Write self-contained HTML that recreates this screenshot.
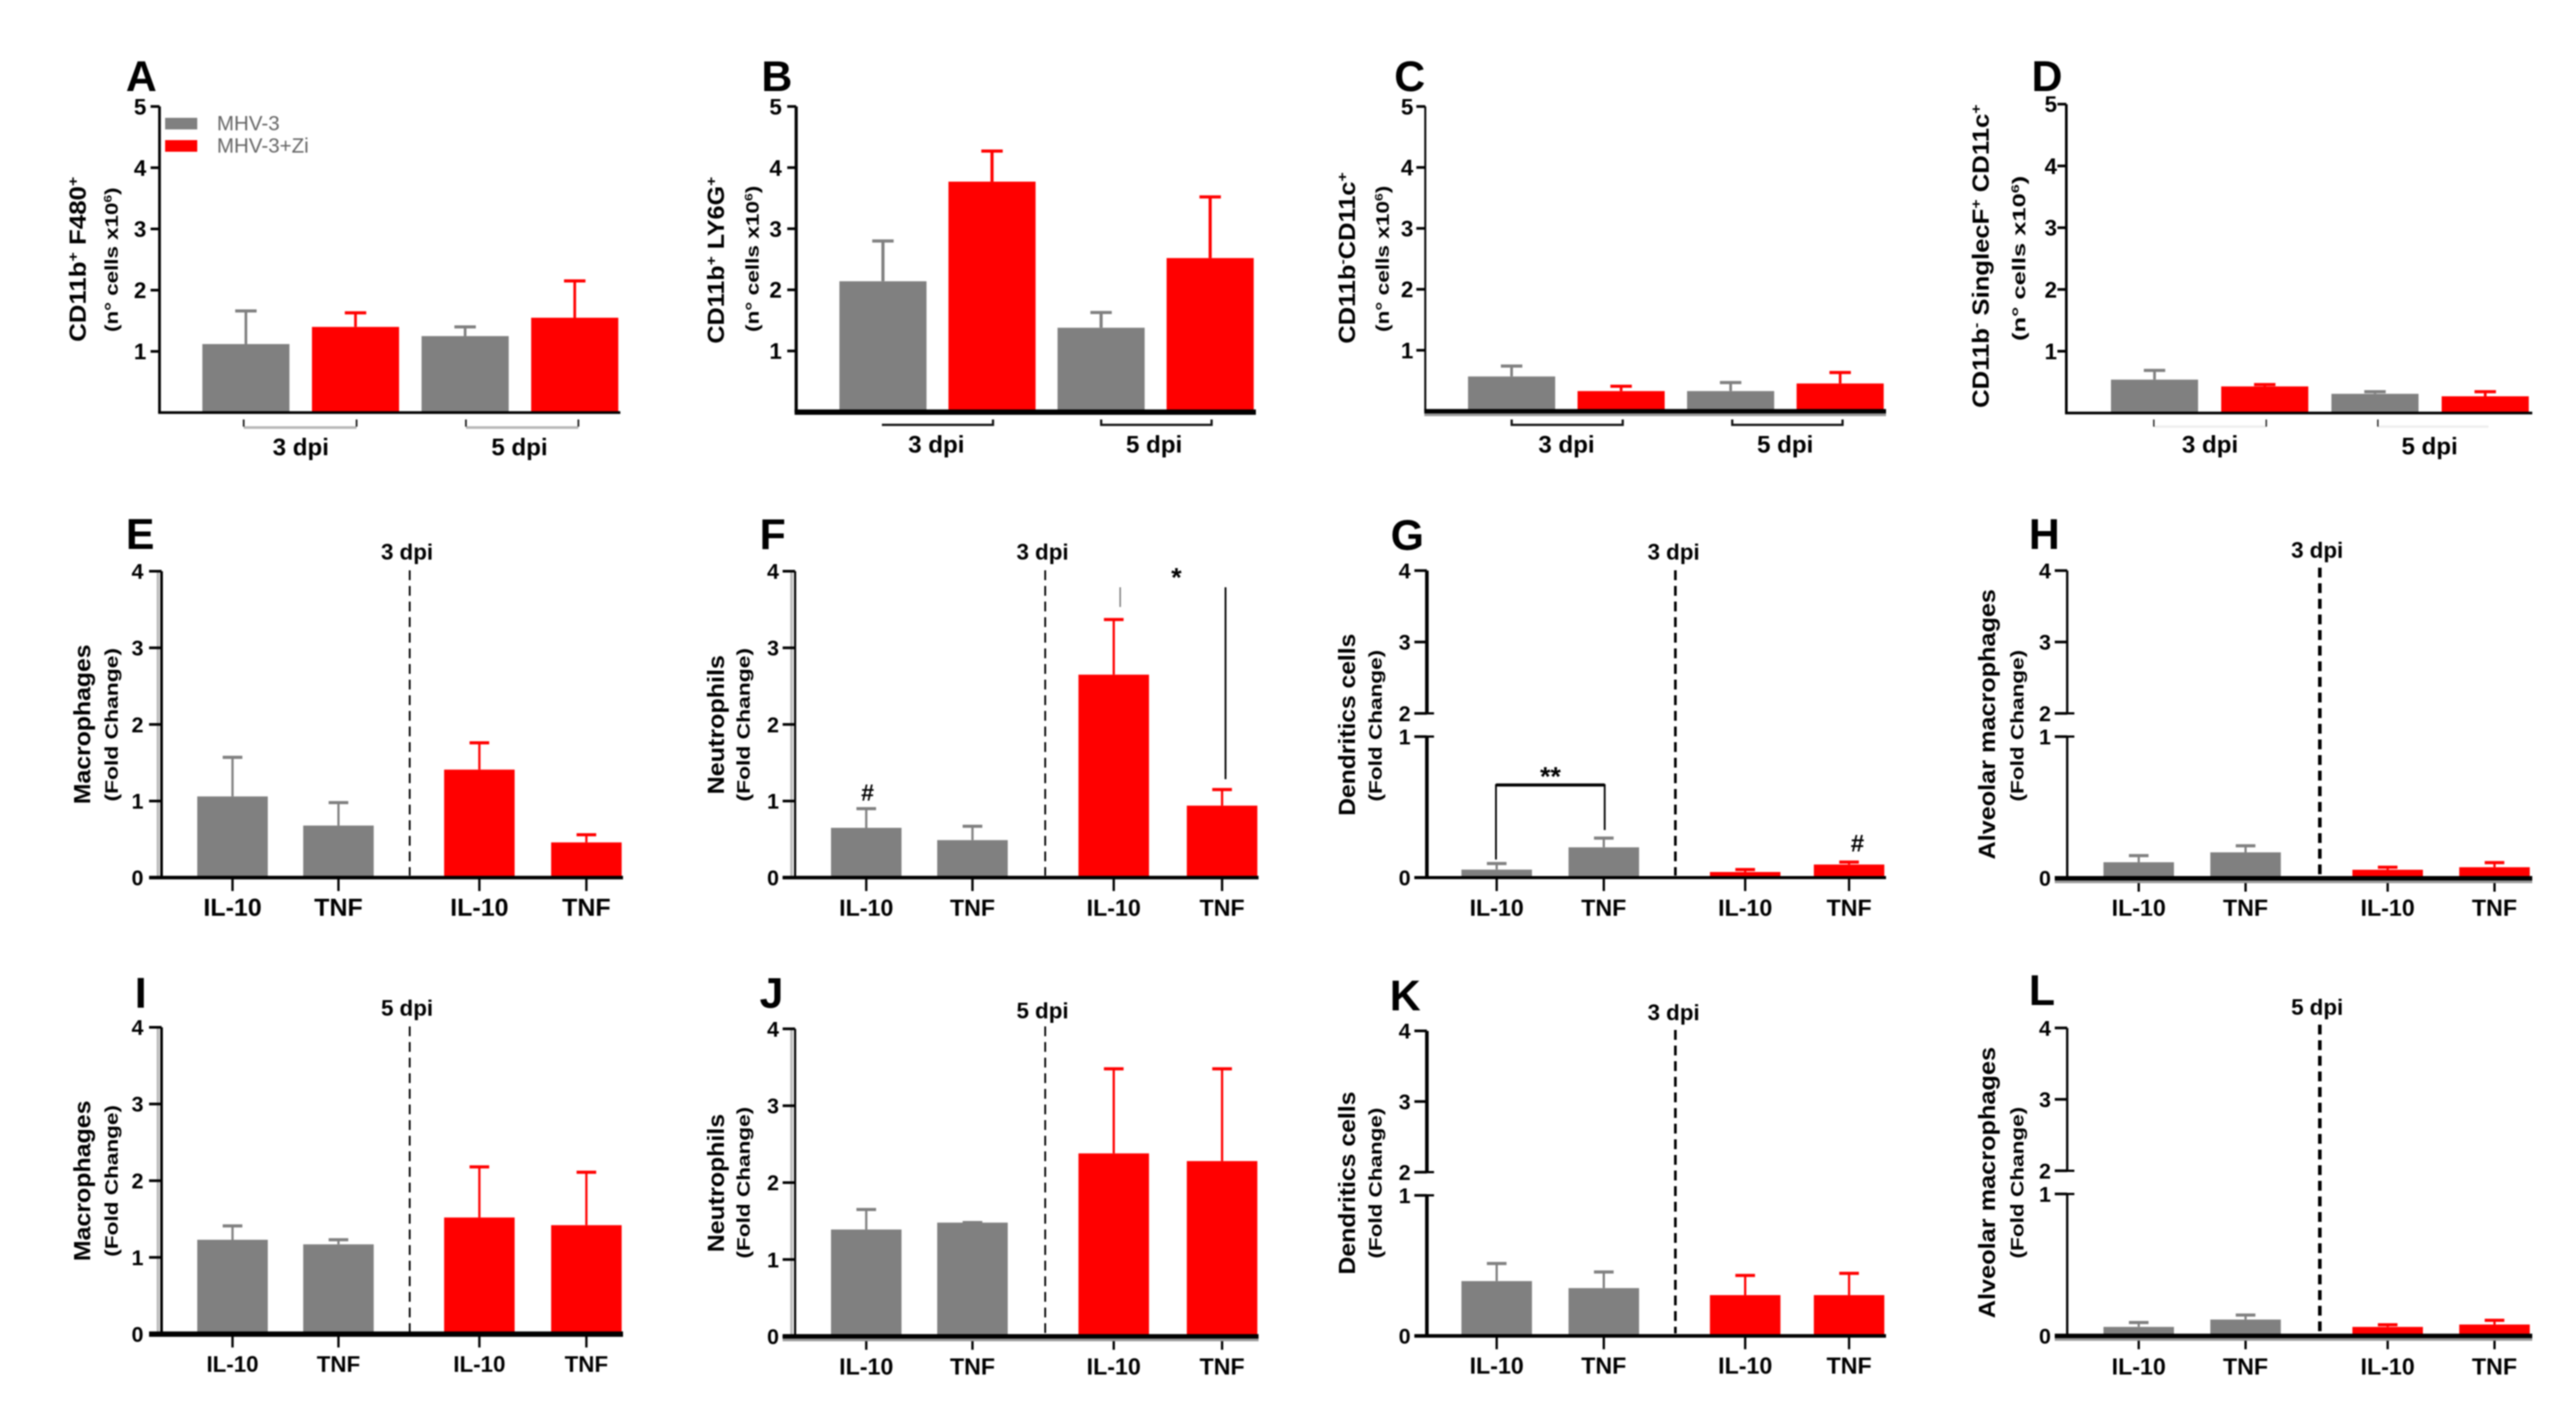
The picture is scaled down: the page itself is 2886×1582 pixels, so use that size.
<!DOCTYPE html>
<html lang="en">
<head>
<meta charset="utf-8">
<title>Immune cell counts and cytokine fold change panels</title>
<style>
html,body{margin:0;padding:0;background:#fff;width:2886px;height:1582px;overflow:hidden}
svg{display:block;filter:blur(0.8px)}
text{font-family:"Liberation Sans",Arial,sans-serif;fill:#000}
.letter{font-size:48px;font-weight:700}
.yt1{font-size:26px;font-weight:700}
.yt2{font-size:20px;font-weight:700}
.sup{font-size:.62em}
.dpi1{font-size:27px;font-weight:700;text-anchor:middle}
.dpi2{font-size:25px;font-weight:700;text-anchor:middle}
.legend{font-size:23px;fill:#666}
.stat{font-weight:700;text-anchor:middle}
</style>
</head>
<body>
<svg id="fig" xmlns="http://www.w3.org/2000/svg" width="2886" height="1582" viewBox="0 0 2886 1582">
<rect x="0" y="0" width="2886" height="1582" fill="#fff"/>

<g>
<text class="letter" x="141" y="102">A</text>
<text class="letter" x="853" y="102">B</text>
<text class="letter" x="1562" y="102">C</text>
<text class="letter" x="2276" y="102">D</text>
<text class="letter" x="141" y="615">E</text>
<text class="letter" x="851" y="615">F</text>
<text class="letter" x="1558" y="616">G</text>
<text class="letter" x="2273" y="615">H</text>
<text class="letter" x="151" y="1129">I</text>
<text class="letter" x="851" y="1129">J</text>
<text class="letter" x="1557" y="1132">K</text>
<text class="letter" x="2273" y="1126">L</text>
</g>

<g>
<text class="yt1" x="96" y="383" transform="rotate(-90 96 383)" textLength="185" lengthAdjust="spacingAndGlyphs">CD11b<tspan class="sup" dy="-9">+</tspan><tspan dy="9"> F480</tspan><tspan class="sup" dy="-9">+</tspan></text>
<text class="yt2" x="132" y="372" transform="rotate(-90 132 372)" textLength="162" lengthAdjust="spacingAndGlyphs">(n° cells x10<tspan class="sup" dy="-7">6</tspan><tspan dy="7">)</tspan></text>
<text class="yt1" x="811" y="385" transform="rotate(-90 811 385)" textLength="187" lengthAdjust="spacingAndGlyphs">CD11b<tspan class="sup" dy="-9">+</tspan><tspan dy="9"> LY6G</tspan><tspan class="sup" dy="-9">+</tspan></text>
<text class="yt2" x="850" y="372" transform="rotate(-90 850 372)" textLength="164" lengthAdjust="spacingAndGlyphs">(n° cells x10<tspan class="sup" dy="-7">6</tspan><tspan dy="7">)</tspan></text>
<text class="yt1" x="1518" y="385" transform="rotate(-90 1518 385)" textLength="192" lengthAdjust="spacingAndGlyphs">CD11b<tspan class="sup" dy="-9">-</tspan><tspan dy="9">CD11c</tspan><tspan class="sup" dy="-9">+</tspan></text>
<text class="yt2" x="1556" y="372" transform="rotate(-90 1556 372)" textLength="164" lengthAdjust="spacingAndGlyphs">(n° cells x10<tspan class="sup" dy="-7">6</tspan><tspan dy="7">)</tspan></text>
<text class="yt1" x="2228" y="457" transform="rotate(-90 2228 457)" textLength="340" lengthAdjust="spacingAndGlyphs">CD11b<tspan class="sup" dy="-9">-</tspan><tspan dy="9"> SinglecF</tspan><tspan class="sup" dy="-9">+</tspan><tspan dy="9"> CD11c</tspan><tspan class="sup" dy="-9">+</tspan></text>
<text class="yt2" x="2269" y="382" transform="rotate(-90 2269 382)" textLength="185" lengthAdjust="spacingAndGlyphs">(n° cells x10<tspan class="sup" dy="-7">6</tspan><tspan dy="7">)</tspan></text>

<text class="yt1" x="101" y="901" transform="rotate(-90 101 901)" textLength="179" lengthAdjust="spacingAndGlyphs">Macrophages</text>
<text class="yt2" x="132" y="898" transform="rotate(-90 132 898)" textLength="172" lengthAdjust="spacingAndGlyphs">(Fold Change)</text>
<text class="yt1" x="811" y="890" transform="rotate(-90 811 890)" textLength="156" lengthAdjust="spacingAndGlyphs">Neutrophils</text>
<text class="yt2" x="840" y="898" transform="rotate(-90 840 898)" textLength="172" lengthAdjust="spacingAndGlyphs">(Fold Change)</text>
<text class="yt1" x="1518" y="914" transform="rotate(-90 1518 914)" textLength="204" lengthAdjust="spacingAndGlyphs">Dendritics cells</text>
<text class="yt2" x="1548" y="898" transform="rotate(-90 1548 898)" textLength="170" lengthAdjust="spacingAndGlyphs">(Fold Change)</text>
<text class="yt1" x="2235" y="963" transform="rotate(-90 2235 963)" textLength="303" lengthAdjust="spacingAndGlyphs">Alveolar macrophages</text>
<text class="yt2" x="2267" y="898" transform="rotate(-90 2267 898)" textLength="170" lengthAdjust="spacingAndGlyphs">(Fold Change)</text>

<text class="yt1" x="101" y="1413" transform="rotate(-90 101 1413)" textLength="180" lengthAdjust="spacingAndGlyphs">Macrophages</text>
<text class="yt2" x="132" y="1408" transform="rotate(-90 132 1408)" textLength="170" lengthAdjust="spacingAndGlyphs">(Fold Change)</text>
<text class="yt1" x="811" y="1403" transform="rotate(-90 811 1403)" textLength="155" lengthAdjust="spacingAndGlyphs">Neutrophils</text>
<text class="yt2" x="840" y="1410" transform="rotate(-90 840 1410)" textLength="170" lengthAdjust="spacingAndGlyphs">(Fold Change)</text>
<text class="yt1" x="1518" y="1428" transform="rotate(-90 1518 1428)" textLength="205" lengthAdjust="spacingAndGlyphs">Dendritics cells</text>
<text class="yt2" x="1548" y="1410" transform="rotate(-90 1548 1410)" textLength="169" lengthAdjust="spacingAndGlyphs">(Fold Change)</text>
<text class="yt1" x="2235" y="1477" transform="rotate(-90 2235 1477)" textLength="304" lengthAdjust="spacingAndGlyphs">Alveolar macrophages</text>
<text class="yt2" x="2267" y="1410" transform="rotate(-90 2267 1410)" textLength="170" lengthAdjust="spacingAndGlyphs">(Fold Change)</text>
</g>

<g>
<rect x="185" y="132" width="36" height="13" fill="#808080"/>
<text class="legend" x="243" y="146">MHV-3</text>
<rect x="185" y="157" width="36" height="13" fill="#ff0000"/>
<text class="legend" x="243" y="171">MHV-3+Zi</text>
</g>

<g fill="none">
<path d="M273 479H399.5" stroke="#b8b8b8" stroke-width="3"/>
<path d="M273 470V478M399.5 470V478" stroke="#222" stroke-width="2"/>
<path d="M522 479H648" stroke="#b8b8b8" stroke-width="3"/>
<path d="M522 470V478M648 470V478" stroke="#222" stroke-width="2"/>
<path d="M988 476H1112.5V470" stroke="#111" stroke-width="2.5"/>
<path d="M1233.7 470V476H1357.4V470" stroke="#111" stroke-width="2.5"/>
<path d="M1693.6 470V476H1818V470" stroke="#111" stroke-width="2.5"/>
<path d="M1940.7 470V476H2064.3V470" stroke="#111" stroke-width="2.5"/>
<path d="M2413 478H2539" stroke="#eee" stroke-width="2.5"/>
<path d="M2413 470V478M2539 470V478" stroke="#222" stroke-width="1.6"/>
<path d="M2664 478H2788" stroke="#eee" stroke-width="2.5"/>
<path d="M2664 470V478" stroke="#222" stroke-width="1.6"/>
</g>

<g>
<text class="dpi1" x="337" y="510">3 dpi</text>
<text class="dpi1" x="582" y="510">5 dpi</text>
<text class="dpi1" x="1049" y="507">3 dpi</text>
<text class="dpi1" x="1293" y="507">5 dpi</text>
<text class="dpi1" x="1755" y="507">3 dpi</text>
<text class="dpi1" x="2000" y="507">5 dpi</text>
<text class="dpi1" x="2476" y="507">3 dpi</text>
<text class="dpi1" x="2722" y="509">5 dpi</text>
<text class="dpi2" x="456" y="627">3 dpi</text>
<text class="dpi2" x="1168" y="627">3 dpi</text>
<text class="dpi2" x="1875" y="627">3 dpi</text>
<text class="dpi2" x="2596" y="625">3 dpi</text>
<text class="dpi2" x="456" y="1138">5 dpi</text>
<text class="dpi2" x="1168" y="1141">5 dpi</text>
<text class="dpi2" x="1875" y="1143">3 dpi</text>
<text class="dpi2" x="2596" y="1137">5 dpi</text>
</g>

<g fill="none" stroke="#000">
<path d="M459 639V981" stroke-width="2" stroke-dasharray="11 6.5"/>
<path d="M1171 639V981" stroke-width="2" stroke-dasharray="11 6.5"/>
<path d="M1877 639V981" stroke-width="3" stroke-dasharray="11 6.5"/>
<path d="M2599 636V981" stroke-width="4" stroke-dasharray="11 6.5"/>
<path d="M459 1150V1492" stroke-width="2" stroke-dasharray="11 6.5"/>
<path d="M1171 1150V1494" stroke-width="2" stroke-dasharray="11 6.5"/>
<path d="M1877 1154V1494" stroke-width="3" stroke-dasharray="11 6.5"/>
<path d="M2599 1148V1494" stroke-width="4" stroke-dasharray="11 6.5"/>
</g>

<g id="marks"></g>

<g>
<text class="stat" x="972" y="897" font-size="26">#</text>
<text class="stat" x="1318" y="657" font-size="30">*</text>
<path d="M1255 658V680" stroke="#777" stroke-width="1.6" fill="none"/>
<path d="M1373 658V873" stroke="#000" stroke-width="2" fill="none"/>
<path d="M1676 963V879.5H1797.8V930" stroke="#000" stroke-width="2" fill="none"/>
<path d="M1676 879.5H1797.8" stroke="#000" stroke-width="3.5" fill="none"/>
<text class="stat" x="1737" y="880" font-size="30">**</text>
<text class="stat" x="2081" y="954" font-size="27">#</text>
</g>
</svg>

<script>
// ---- Categories and tick labels ----
const categoriesDpi = ['3 dpi MHV-3', '3 dpi MHV-3+Zi', '5 dpi MHV-3', '5 dpi MHV-3+Zi'];
const categoriesCytokine = ['IL-10', 'TNF', 'IL-10', 'TNF'];
const treatmentDpi = ['MHV-3', 'MHV-3+Zi', 'MHV-3', 'MHV-3+Zi'];
const treatmentCytokine = ['MHV-3', 'MHV-3', 'MHV-3+Zi', 'MHV-3+Zi'];
const ticksCounts = ['1', '2', '3', '4', '5'];
const ticksFold = ['0', '1', '2', '3', '4'];

// ---- Series values: bar means and upper error-bar ends ----
const meanA = [1.12, 1.40, 1.25, 1.55];
const errA  = [1.66, 1.63, 1.40, 2.15];
const meanB = [2.14, 3.77, 1.38, 2.52];
const errB  = [2.80, 4.27, 1.63, 3.52];
const meanC = [0.57, 0.33, 0.33, 0.455];
const errC  = [0.74, 0.41, 0.47, 0.635];
const meanD = [0.54, 0.43, 0.31, 0.27];
const errD  = [0.69, 0.46, 0.345, 0.345];
const meanE = [1.06, 0.68, 1.41, 0.46];
const errE  = [1.57, 0.98, 1.76, 0.56];
const meanF = [0.65, 0.49, 2.65, 0.94];
const errF  = [0.90, 0.67, 3.37, 1.15];
const meanG = [0.057, 0.215, 0.04, 0.093];
const errG  = [0.10, 0.28, 0.057, 0.11];
const meanH = [0.113, 0.183, 0.06, 0.078];
const errH  = [0.16, 0.229, 0.078, 0.11];
const meanI = [1.23, 1.17, 1.52, 1.42];
const errI  = [1.41, 1.23, 2.18, 2.11];
const meanJ = [1.39, 1.48, 2.38, 2.28];
const errJ  = [1.65, 1.48, 3.48, 3.48];
const meanK = [0.39, 0.34, 0.29, 0.29];
const errK  = [0.515, 0.455, 0.43, 0.445];
const meanL = [0.063, 0.115, 0.063, 0.08];
const errL  = [0.094, 0.147, 0.078, 0.11];

// ---- Layout (separate from the data) ----
const palette = {'MHV-3': '#808080', 'MHV-3+Zi': '#ff0000'};
const rowOne = {ticks: ticksCounts, group: treatmentDpi, cats: categoriesDpi, showCats: false, max: 5, bw: 97.6, tl: 10, cap: 12, slots: [0, 1, 2, 3]};
const rowFold = {ticks: ticksFold, group: treatmentCytokine, cats: categoriesCytokine, showCats: true, max: 4, bw: 79, tl: 14, cap: 11};
const panels = [
  {id: 'a', mean: meanA, err: errA, ...rowOne, ax: 178.7, yTop: 119.3, y0: 462.3, xEnd: 695, left: 226.7, step: 122.8, lx: 157, ax_w: 3, base_w: 3, ew: 3, fs: 25},
  {id: 'b', mean: meanB, err: errB, ...rowOne, ax: 892, yTop: 119.3, y0: 461.7, xEnd: 1407, left: 940.4, step: 122.2, lx: 869, ax_w: 3.5, base_w: 6, ew: 3.5, fs: 25},
  {id: 'c', mean: meanC, err: errC, ...rowOne, ax: 1596.8, yTop: 119.3, y0: 460.7, xEnd: 2113, left: 1644.7, step: 122.7, lx: 1576.5, ax_w: 2.2, base_w: 5, ew: 3, fs: 25, halo: true},
  {id: 'd', mean: meanD, err: errD, ...rowOne, ax: 2315, yTop: 116.7, y0: 462.7, xEnd: 2837, left: 2365, step: 123.5, lx: 2297.6, ax_w: 3, base_w: 3, ew: 3, fs: 25},
  {id: 'e', mean: meanE, err: errE, ...rowFold, slots: [0, 1, 2.33, 3.34], ax: 181, yTop: 640, y0: 983.3, xEnd: 698, left: 221, step: 118.7, lx: 154, ax_w: 3, base_w: 4, ew: 2.5, fs: 24, catFs: 28, catY: 1026},
  {id: 'f', mean: meanF, err: errF, ...rowFold, slots: [0, 1, 2.33, 3.35], ax: 890.8, yTop: 640, y0: 983.3, xEnd: 1410, left: 931, step: 119, lx: 866, ax_w: 2.4, base_w: 4, ew: 2.5, fs: 24, catFs: 26, catY: 1026},
  {id: 'g', mean: meanG, err: errG, ...rowFold, slots: [0, 1, 2.32, 3.29], broken: true, ax: 1598.6, yTop: 639.3, y2: 799.3, y1: 825.3, y0: 983.3, xEnd: 2113, left: 1637.3, step: 120, lx: 1573.7, ax_w: 4, base_w: 3.5, ew: 2.5, fs: 24, catFs: 26, catY: 1026},
  {id: 'h', mean: meanH, err: errH, ...rowFold, slots: [0, 1, 2.33, 3.33], broken: true, ax: 2316, yTop: 639.3, y2: 799.3, y1: 825.3, y0: 984, xEnd: 2837, left: 2356.6, step: 119.7, lx: 2291, ax_w: 2.6, base_w: 5, ew: 2.5, fs: 24, catFs: 26, catY: 1026, halo: true},
  {id: 'i', mean: meanI, err: errI, ...rowFold, slots: [0, 1, 2.33, 3.34], ax: 181, yTop: 1151, y0: 1494.7, xEnd: 698, left: 221, step: 118.7, lx: 154, ax_w: 3, base_w: 6, ew: 2.5, fs: 24, catFs: 25, catY: 1537},
  {id: 'j', mean: meanJ, err: errJ, ...rowFold, slots: [0, 1, 2.33, 3.35], ax: 890.8, yTop: 1152.7, y0: 1497.3, xEnd: 1410, left: 931, step: 119, lx: 866, ax_w: 2.4, base_w: 5, ew: 2.5, fs: 24, catFs: 26, catY: 1540, halo: true},
  {id: 'k', mean: meanK, err: errK, ...rowFold, slots: [0, 1, 2.32, 3.29], broken: true, ax: 1598.6, yTop: 1155, y2: 1313.3, y1: 1339.3, y0: 1496.7, xEnd: 2113, left: 1637.3, step: 120, lx: 1573.7, ax_w: 4, base_w: 4, ew: 2.5, fs: 24, catFs: 26, catY: 1539},
  {id: 'l', mean: meanL, err: errL, ...rowFold, slots: [0, 1, 2.33, 3.33], broken: true, ax: 2316, yTop: 1151.7, y2: 1311.7, y1: 1337.7, y0: 1496.7, xEnd: 2837, left: 2356.6, step: 119.7, lx: 2291, ax_w: 2.6, base_w: 5, ew: 2.5, fs: 24, catFs: 26, catY: 1540, halo: true}
];

const SVG_NS = 'http://www.w3.org/2000/svg';
const marksRoot = document.getElementById('marks');

function make(tag, props, parent, name) {
  const el = document.createElementNS(SVG_NS, tag);
  for (const key in props) el.setAttribute(key, props[key]);
  
  
  parent.appendChild(el);
  return el;
}

function line(x1, y1, x2, y2, stroke, width, parent, name) {
  return make('line', {x1: x1, y1: y1, x2: x2, y2: y2, stroke: stroke, 'stroke-width': width}, parent, name);
}

function makeYScale(p) {
  if (p.broken) {
    return function (v) {
      if (v <= 1) return p.y0 + (p.y1 - p.y0) * v;
      if (v < 2) return p.y1;
      return p.y2 + (p.yTop - p.y2) * (v - 2) / 2;
    };
  }
  return function (v) { return p.y0 + (p.yTop - p.y0) * v / p.max; };
}

function makeXScale(p) {
  return function (i) { return p.left + p.step * p.slots[i]; };
}

function drawPanel(p) {
  const g = make('g', {}, marksRoot, 'panel-' + p.id);
  const y = makeYScale(p);
  const x = makeXScale(p);

  p.mean.forEach(function (m, i) {
    const color = palette[p.group[i]];
    const cx = x(i) + p.bw / 2;
    line(cx, y(m), cx, y(p.err[i]), color, p.ew, g, 'error-bar-' + p.id + '-' + (i + 1));
    line(cx - p.cap, y(p.err[i]), cx + p.cap, y(p.err[i]), color, 3.5, g, 'error-cap-' + p.id + '-' + (i + 1));
    make('rect', {x: x(i), y: y(m), width: p.bw, height: p.y0 - y(m), fill: color}, g, 'bar-' + p.id + '-' + (i + 1));
    if (p.showCats) {
      line(cx, p.y0, cx, p.y0 + 15, '#000', 2.6, g, 'x-tick-' + p.id + '-' + (i + 1));
      const label = make('text', {x: cx, y: p.catY, 'text-anchor': 'middle', 'font-size': p.catFs, 'font-weight': 700}, g, 'x-tick-label-' + p.id + '-' + (i + 1));
      label.textContent = p.cats[i];
    }
  });

  if (p.broken) {
    line(p.ax, p.yTop, p.ax, p.y2, '#000', p.ax_w, g, 'y-axis-upper-' + p.id);
    line(p.ax, p.y1, p.ax, p.y0, '#000', p.ax_w, g, 'y-axis-lower-' + p.id);
    line(p.ax - p.tl, y(1), p.ax + 8, y(1), '#000', 2.5, g, 'y-axis-break-lower-' + p.id);
    line(p.ax - p.tl, y(2), p.ax + 8, y(2), '#000', 2.5, g, 'y-axis-break-upper-' + p.id);
  } else {
    if (p.showCats) {
      line(p.ax - 4, p.yTop, p.ax - 4, p.y0, '#bbb', 3, g, 'y-axis-shadow-' + p.id);
    }
    line(p.ax, p.yTop, p.ax, p.y0, '#000', p.ax_w, g, 'y-axis-' + p.id);
  }

  p.ticks.forEach(function (t) {
    const v = Number(t);
    line(p.ax - p.tl, y(v), p.ax, y(v), '#000', 3, g, 'y-tick-' + p.id + '-' + t);
    const label = make('text', {x: p.lx, y: y(v) + p.fs * 0.36, 'text-anchor': 'middle', 'font-size': p.fs, 'font-weight': 700}, g, 'y-tick-label-' + p.id + '-' + t);
    label.textContent = t;
  });

  const startX = p.showCats ? p.ax - p.tl : p.ax - p.ax_w / 2;
  if (p.halo) {
    line(startX, p.y0 + 3, p.xEnd, p.y0 + 3, '#9a9a9a', p.base_w, g, 'x-axis-shadow-' + p.id);
  }
  line(startX, p.y0, p.xEnd, p.y0, '#000', p.base_w, g, 'x-axis-' + p.id);
}

panels.forEach(drawPanel);
</script>
</body>
</html>
